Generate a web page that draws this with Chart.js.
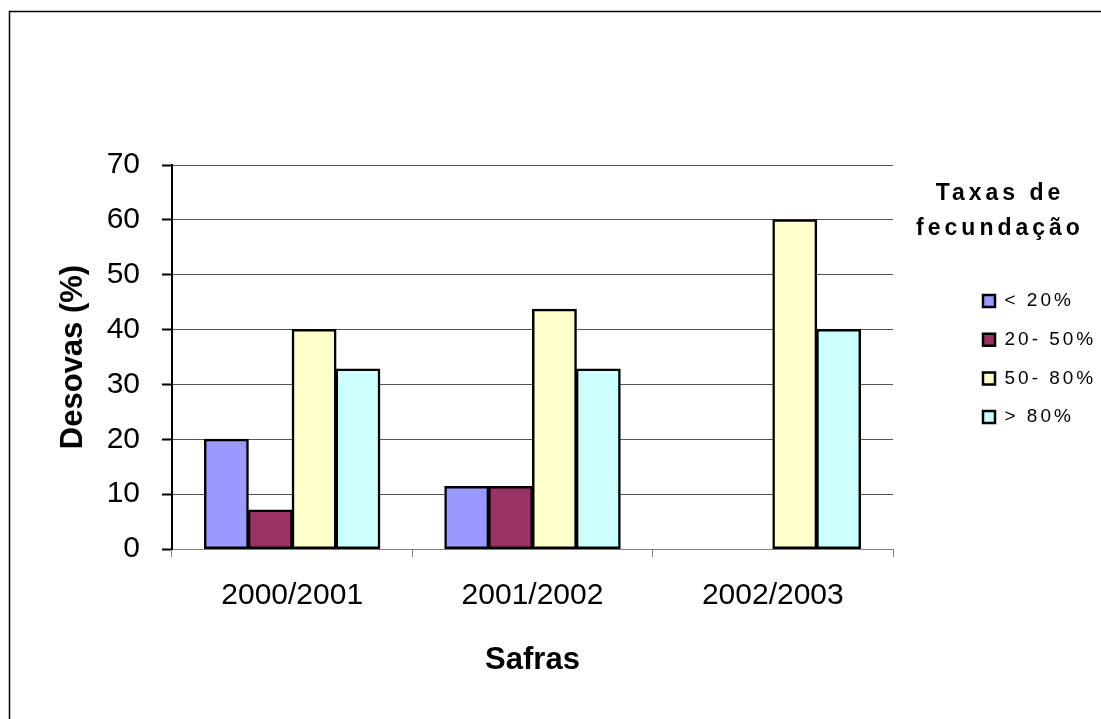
<!DOCTYPE html>
<html>
<head>
<meta charset="utf-8">
<title>Desovas por safra</title>
<script src="https://cdn.jsdelivr.net/npm/chart.js@4/dist/chart.umd.min.js"></script>
<style>
  html, body { margin: 0; padding: 0; background: #fff; }
  #wrap { position: relative; width: 1101px; height: 719px; }
</style>
</head>
<body>
<div id="wrap"><canvas id="c" width="1101" height="719"></canvas></div>
<script>
// Categories and series (percent of spawnings per fertilization-rate class)
const safras = ['2000/2001', '2001/2002', '2002/2003'];
const faixas = ['< 20%', '20- 50%', '50- 80%', '> 80%'];
const menos20 = [20, 11.4, null];
const de20a50 = [7.1, 11.4, null];
const de50a80 = [40, 43.7, 60];
const mais80 = [32.8, 32.8, 40];
const yTicks = [0, 10, 20, 30, 40, 50, 60, 70];
const legendTitle = ['Taxas de', 'fecundação'];

const cores = ['#9999FF', '#993366', '#FFFFCC', '#CCFFFF'];
const FONT = "'Liberation Sans', Arial, Helvetica, sans-serif";

Chart.defaults.font.family = FONT;
Chart.defaults.color = '#000';

// Legend geometry (canvas px)
const ITEM_PAD = 19.7;          // vertical gap between legend entries
const LEGEND_W = 34 + 2 * ITEM_PAD;
const PLOT_RIGHT = 893;
const ITEMS_LEFT = 983;

// Legend text is drawn letter-spaced (heading a bit wider than the entries);
// the legend box keeps a fixed width, and its text may run past that box.
const spacedLegend = {
  id: 'spacedLegend',
  afterInit(chart) {
    const lg = chart.legend;
    const ctx = chart.ctx;
    const fit = lg.fit.bind(lg);
    const draw = lg.draw.bind(lg);
    lg.fit = function () {
      ctx.save(); ctx.letterSpacing = '3px'; fit(); ctx.letterSpacing = '0px'; ctx.restore();
      this.width = LEGEND_W;
    };
    lg.draw = function (area) {
      const fillText = CanvasRenderingContext2D.prototype.fillText;
      ctx.fillText = function (t, x, y, w) {
        this.letterSpacing = /bold/.test(this.font) ? '4px' : '3px';
        return w === undefined ? fillText.call(this, t, x, y) : fillText.call(this, t, x, y, w);
      };
      ctx.clip = function () {};     // no clipping to the narrow legend box
      ctx.save();
      try { draw(area); } finally {
        ctx.restore();
        delete ctx.fillText;
        delete ctx.clip;
        ctx.letterSpacing = '0px';
      }
    };
  }
};

// Outer frame of the figure
const frame = {
  id: 'frame',
  beforeDraw(chart) {
    const ctx = chart.ctx;
    ctx.save();
    ctx.strokeStyle = '#000';
    ctx.lineWidth = 1.5;
    ctx.beginPath();
    ctx.moveTo(9.5, chart.height + 2);
    ctx.lineTo(9.5, 11.5);
    ctx.lineTo(chart.width + 2, 11.5);
    ctx.stroke();
    ctx.restore();
  }
};

const series = [menos20, de20a50, de50a80, mais80];

new Chart(document.getElementById('c'), {
  type: 'bar',
  data: {
    labels: safras,
    datasets: series.map((vals, i) => ({
      label: faixas[i],
      data: vals,
      backgroundColor: cores[i],
      borderColor: '#000',
      borderWidth: 2.5,
      borderSkipped: false,
      inflateAmount: 0.5,
      categoryPercentage: 0.73,
      barPercentage: 1.0
    }))
  },
  options: {
    responsive: false,
    animation: false,
    devicePixelRatio: 1,
    layout: {
      padding: { top: 165, left: 40, bottom: 30,
                 right: 1101 - (ITEMS_LEFT - ITEM_PAD) - LEGEND_W }
    },
    plugins: {
      tooltip: { enabled: false },
      legend: {
        position: 'right',
        fullSize: false,
        align: 'start',
        title: {
          display: true,
          text: legendTitle,
          color: '#000',
          font: { size: 23, weight: 'bold', lineHeight: 35.5 / 23 },
          padding: { top: 17, bottom: 54.3 }
        },
        labels: {
          boxWidth: 12,
          boxHeight: 12,
          padding: ITEM_PAD,
          color: '#000',
          font: { size: 19 }
        }
      }
    },
    scales: {
      x: {
        ticks: { padding: 21, font: { size: 30 }, color: '#000', maxRotation: 0 },
        grid: { drawOnChartArea: false, drawTicks: true, tickLength: 8, tickColor: '#808080', offset: true },
        border: { color: '#808080', width: 1 },
        title: { display: true, text: 'Safras', color: '#000',
                 font: { size: 31, weight: 'bold' }, padding: { top: 0, bottom: 10 } },
        afterFit(s) { s.height = 719 - 30 - 549; }
      },
      y: {
        min: yTicks[0],
        max: yTicks[yTicks.length - 1],
        ticks: { stepSize: yTicks[1] - yTicks[0], padding: 22, font: { size: 30 }, color: '#000' },
        grid: { color: '#555', lineWidth: 1, tickLength: 10, tickColor: '#000', tickWidth: 2 },
        border: { display: true, color: '#000', width: 2 },
        title: { display: true, text: 'Desovas (%)', color: '#000',
                 font: { size: 31, weight: 'bold' }, padding: { top: 15, bottom: 0 } },
        afterFit(s) { s.width = 172 - 40; }
      },
      gap: {
        position: 'right',
        display: false,
        afterFit(s) { s.width = ITEMS_LEFT - ITEM_PAD - PLOT_RIGHT; }
      }
    }
  },
  plugins: [frame, spacedLegend]
});
</script>
</body>
</html>
